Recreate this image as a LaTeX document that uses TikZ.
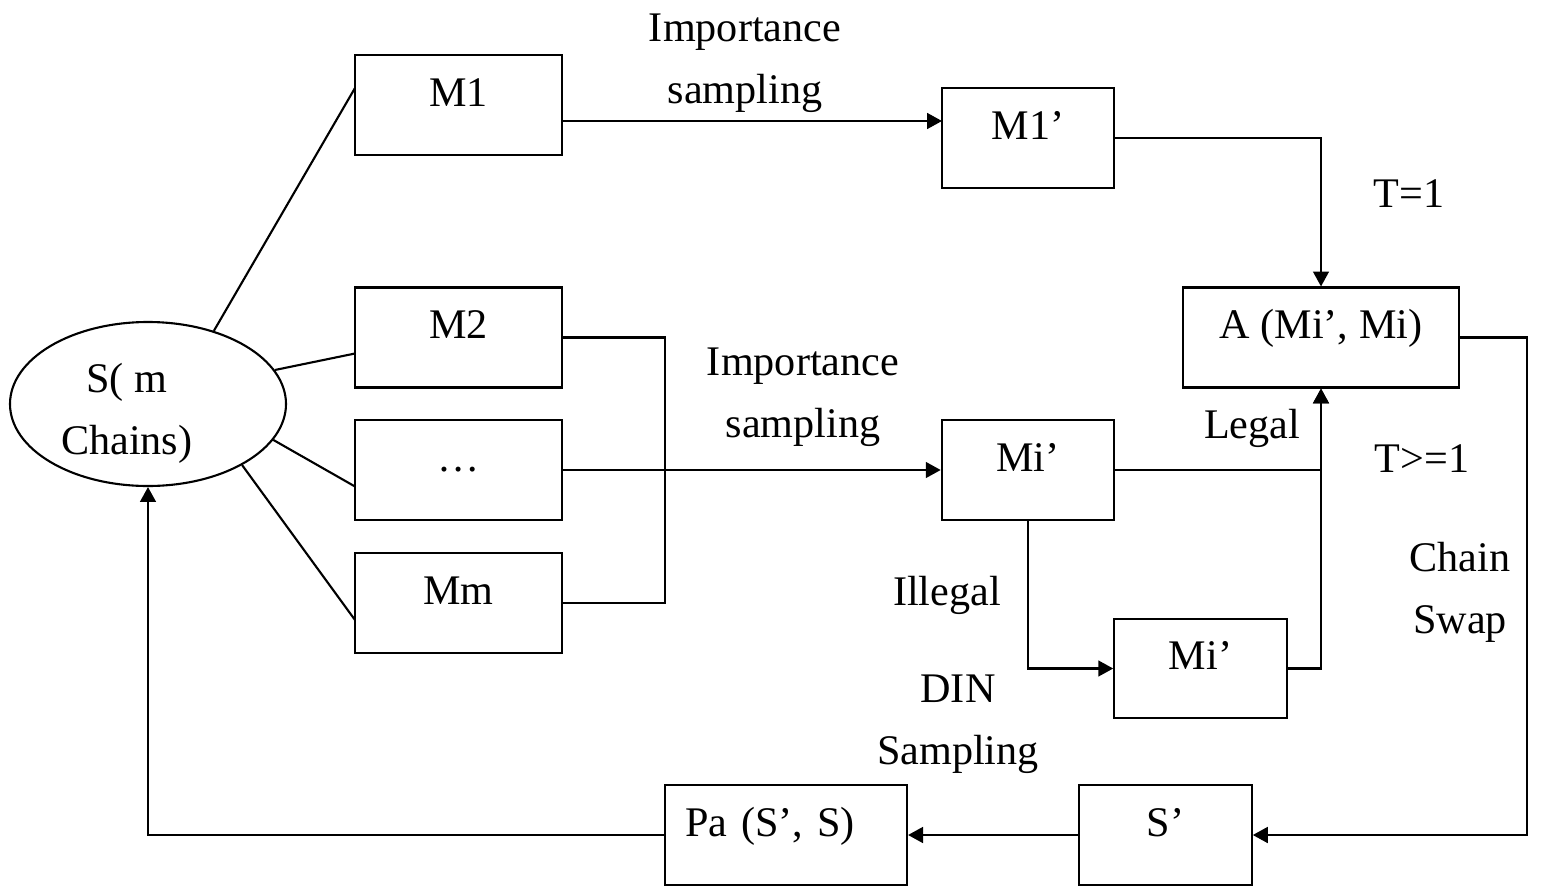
\documentclass[tikz,border=0pt]{standalone}
\usepackage{fontspec}
\setmainfont{Liberation Serif}
\usepackage{tikz}
\usetikzlibrary{arrows.meta,shapes}
\tikzstyle{none}=[inner sep=0pt]
\tikzstyle{chain}=[ellipse,draw=black,fill=white,line width=1.2,minimum width=5.52cm,minimum height=3.28cm,inner sep=0pt,align=center,text height=57.8pt,text depth=0pt,font=\fontsize{24}{35.2}\selectfont]
\tikzstyle{box}=[rectangle,draw=black,fill=white,line width=1.2,minimum height=2cm,inner xsep=0pt,text height=0.42cm,text depth=0.38cm,font=\fontsize{24}{35.2}\selectfont]
\tikzstyle{wide}=[minimum width=4.14cm]
\tikzstyle{narrow}=[minimum width=3.45cm]
\tikzstyle{boxl}=[text width=4.04cm,align=left,inner xsep=0.4cm]
\tikzstyle{label}=[inner sep=0pt,align=center,font=\fontsize{24}{35.2}\selectfont]
\tikzstyle{simple}=[-,line width=1.2]
\tikzstyle{arrow}=[-{Triangle[length=8.5pt,width=9pt]},line width=1.2]
\pgfdeclarelayer{edgelayer}
\pgfdeclarelayer{nodelayer}
\pgfsetlayers{edgelayer,nodelayer,main}

\begin{document}
\begin{tikzpicture}
	\useasboundingbox (0, 0) rectangle (31.14, -17.72);
	\begin{pgfonlayer}{nodelayer}
		\node [style=chain] (S) at (2.96, -8.08) {S( m\hspace*{0.85cm}\\Chains)\hspace*{0.85cm}};
		\node [style=box, style=wide] (M1) at (9.17, -2.10) {M1};
		\node [style=box, style=wide] (M2) at (9.17, -6.75) {M2};
		\node [style=box, style=wide] (dots) at (9.17, -9.40) {…};
		\node [style=box, style=wide] (Mm) at (9.17, -12.06) {Mm};
		\node [style=box, style=narrow] (M1p) at (20.56, -2.76) {M1’};
		\node [style=box, style=narrow] (Mip) at (20.56, -9.40) {Mi’};
		\node [style=box, style=narrow, minimum height=1.98cm] (Mipp) at (24.01, -13.37) {Mi’};
		\node [style=box, minimum width=5.52cm] (A) at (26.42, -6.75) {A (Mi’, Mi)};
		\node [style=box, style=narrow] (Sp) at (23.31, -16.70) {S’};
		\node [style=box, style=boxl] (Pa) at (15.72, -16.70) {Pa (S’, S)};
		\node [style=none] (M1in) at (7.10, -1.76) {};
		\node [style=none] (M2in) at (7.10, -7.07) {};
		\node [style=none] (dotsin) at (7.10, -9.73) {};
		\node [style=none] (Mmin) at (7.10, -12.40) {};
		\node [style=none] (M1out) at (11.24, -2.42) {};
		\node [style=none] (M1pin) at (18.84, -2.42) {};
		\node [style=none] (M2c) at (13.30, -6.75) {};
		\node [style=none] (Mmc) at (13.30, -12.06) {};
		\node [style=none] (Tc) at (26.42, -2.76) {};
		\node [style=none] (Lc) at (26.42, -9.40) {};
		\node [style=none] (Ic) at (26.42, -13.37) {};
		\node [style=none] (Ilc) at (20.56, -13.37) {};
		\node [style=none] (Sw1) at (30.54, -6.75) {};
		\node [style=none] (Sw2) at (30.54, -16.70) {};
		\node [style=none] (Pc) at (2.96, -16.70) {};
		\node [style=label, anchor=base] (imp1) at (14.90, -2.06) {Importance\\sampling};
		\node [style=label, anchor=base] (imp2) at (16.06, -8.74) {Importance\\sampling};
		\node [style=label, anchor=base] (t1) at (28.18, -4.14) {T=1};
		\node [style=label, anchor=base] (legal) at (25.04, -8.76) {Legal};
		\node [style=label, anchor=base] (t2) at (28.44, -9.44) {T>=1};
		\node [style=label, anchor=base] (swap) at (29.20, -12.66) {Chain\\Swap};
		\node [style=label, anchor=base] (illegal) at (18.94, -12.10) {Illegal};
		\node [style=label, anchor=base] (din) at (19.16, -15.28) {DIN\\Sampling};
	\end{pgfonlayer}
	\begin{pgfonlayer}{edgelayer}
		\draw [style=simple] (S.48) to (M1in.center);
		\draw [style=simple] (S.15) to (M2in.center);
		\draw [style=simple] (S.-16) to (dotsin.center);
		\draw [style=simple] (S.-33) to (Mmin.center);
		\draw [style=arrow] (M1out.center) to (M1pin.center);
		\draw [style=simple] (M2.east) -- (M2c.center) -- (Mmc.center) -- (Mm.east);
		\draw [style=arrow] (dots) to (Mip);
		\draw [style=arrow] (M1p.east) -- (Tc.center) -- (A.north);
		\draw [style=arrow] (Mip.east) -- (Lc.center) -- (A.south);
		\draw [style=arrow] (Mipp.east) -- (Ic.center) -- (A.south);
		\draw [style=arrow] (Mip.south) -- (Ilc.center) -- (Mipp.west);
		\draw [style=arrow] (A.east) -- (Sw1.center) -- (Sw2.center) -- (Sp.east);
		\draw [style=arrow] (Sp) to (Pa);
		\draw [style=arrow] (Pa.west) -- (Pc.center) -- (S.south);
	\end{pgfonlayer}
\end{tikzpicture}
\end{document}
